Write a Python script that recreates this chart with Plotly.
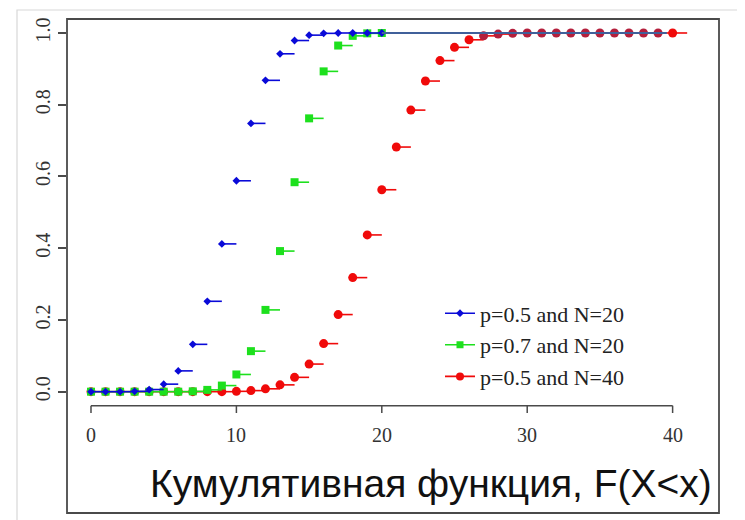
import plotly.graph_objects as go

# ---------------- data ----------------
k20 = [0, 1, 2, 3, 4, 5, 6, 7, 8, 9, 10, 11, 12, 13, 14, 15, 16, 17, 18, 19, 20]
k40 = [0, 1, 2, 3, 4, 5, 6, 7, 8, 9, 10, 11, 12, 13, 14, 15, 16, 17, 18, 19, 20,
       21, 22, 23, 24, 25, 26, 27, 28, 29, 30, 31, 32, 33, 34, 35, 36, 37, 38, 39, 40]
cdf_p05_n20 = [0.000, 0.000, 0.000, 0.001, 0.006, 0.021, 0.058, 0.132, 0.252, 0.412,
               0.588, 0.748, 0.868, 0.942, 0.979, 0.994, 0.999, 1.000, 1.000, 1.000, 1.000]
cdf_p07_n20 = [0.000, 0.000, 0.000, 0.000, 0.000, 0.000, 0.000, 0.001, 0.005, 0.017,
               0.048, 0.113, 0.228, 0.392, 0.584, 0.762, 0.893, 0.965, 0.992, 0.999, 1.000]
cdf_p05_n40 = [0.000, 0.000, 0.000, 0.000, 0.000, 0.000, 0.000, 0.000, 0.000, 0.000,
               0.001, 0.003, 0.008, 0.019, 0.040, 0.077, 0.134, 0.215, 0.318, 0.437,
               0.563, 0.682, 0.785, 0.866, 0.923, 0.960, 0.981, 0.992, 0.997, 0.999,
               1.000, 1.000, 1.000, 1.000, 1.000, 1.000, 1.000, 1.000, 1.000, 1.000, 1.000]
series_names = ["p=0.5 and N=20", "p=0.7 and N=20", "p=0.5 and N=40"]
x_ticks = [0, 10, 20, 30, 40]
y_ticks = [0.0, 0.2, 0.4, 0.6, 0.8, 1.0]
title_text = "Кумулятивная функция, F(X<x)"

# ---------------- styles ----------------
BLUE, GREEN, RED = "#0a0ad8", "#1de01d", "#f00a0a"
RED_DARK = "#b41f3c"
SERIF = "Liberation Serif, Times New Roman, serif"
SANS = "Liberation Sans, Arial, sans-serif"
AXC = "#4a4a4a"

OFF = 8  # page body margin offset
W, H = 745 - OFF, 520 - OFF
ML, MR, MT, MB = 67 - OFF, 26, 19 - OFF, 6
PW, PH = W - ML - MR, H - MT - MB
# axis ranges chosen so that 0..40 and 0..1 land where the reference puts them
XR = [-1.65, 43.19]
YR = [-0.341, 1.039]


def steps(xs, ys):
    sx, sy = [], []
    for a, b in zip(xs, ys):
        sx += [a, a + 1, None]
        sy += [b, b, None]
    return sx, sy


fig = go.Figure()

specs = [
    (k40, cdf_p05_n40, RED, "circle", 9, series_names[2]),
    (k20, cdf_p07_n20, GREEN, "square", 8, series_names[1]),
    (k20, cdf_p05_n20, BLUE, "diamond", 6, series_names[0]),
]

for xs, ys, col, sym, size, name in specs:
    sx, sy = steps(xs, ys)
    fig.add_trace(go.Scatter(x=sx, y=sy, mode="lines", line=dict(color=col, width=1.6),
                             showlegend=False, hoverinfo="skip"))
    if col == RED:
        mcol = [RED_DARK if (v >= 0.99 and x < xs[-1]) else RED for x, v in zip(xs, ys)]
    else:
        mcol = col
    fig.add_trace(go.Scatter(x=xs, y=ys, mode="markers",
                             marker=dict(color=mcol, symbol=sym, size=size, line=dict(width=0)),
                             showlegend=False, name=name))

# top level line where all distributions reach 1
fig.add_shape(type="line", xref="x", yref="y", x0=k20[-1], x1=k40[-1] - 0.4, y0=1, y1=1,
              line=dict(color="#40609a", width=2), layer="above")

# legend-only traces
for i, (col, sym, size) in enumerate([(BLUE, "diamond", 6), (GREEN, "square", 7), (RED, "circle", 8)]):
    fig.add_trace(go.Scatter(x=[None], y=[None], mode="lines+markers", name=series_names[i],
                             line=dict(color=col, width=1.6),
                             marker=dict(color=col, symbol=sym, size=size)))

# R-style x axis drawn from the data scale
y_axis_line = -0.039
y_tick_end = -0.0594
y_tick_lab = -0.121
fig.add_shape(type="line", xref="x", yref="y", x0=x_ticks[0], x1=x_ticks[-1],
              y0=y_axis_line, y1=y_axis_line, line=dict(color=AXC, width=1.5))
for t in x_ticks:
    fig.add_shape(type="line", xref="x", yref="y", x0=t, x1=t, y0=y_axis_line, y1=y_tick_end,
                  line=dict(color=AXC, width=1.5))
    fig.add_annotation(x=t, y=y_tick_lab, xref="x", yref="y", text=str(t), showarrow=False,
                       font=dict(family=SERIF, size=20, color="#333333"),
                       xanchor="center", yanchor="middle")

# big title at the bottom
fig.add_annotation(x=23.38, y=-0.255, xref="x", yref="y", text=title_text, showarrow=False,
                   font=dict(family=SANS, size=39, color="#111111"),
                   xanchor="center", yanchor="middle")

# outer light frame (page x=17, y=10)
fig.add_shape(type="rect", xref="paper", yref="paper",
              x0=(17 - OFF - ML) / PW, x1=(780 - ML) / PW,
              y0=(H - MB - 560) / PH, y1=(H - MB - (10 - OFF)) / PH,
              line=dict(color="#d8d8d8", width=1.2), layer="below")

# dark frame around the whole plot region
fig.add_shape(type="rect", xref="paper", yref="paper", x0=0, x1=1, y0=0.002, y1=1,
              line=dict(color=AXC, width=1.8), layer="above")

fig.update_layout(
    width=W, height=H,
    margin=dict(l=ML, r=MR, t=MT, b=MB, pad=0),
    paper_bgcolor="white", plot_bgcolor="white",
    showlegend=True,
    legend=dict(x=373 / PW, y=(H - MB - 284.4) / PH,
                xanchor="left", yanchor="top", bgcolor="rgba(0,0,0,0)",
                font=dict(family=SERIF, size=22, color="#222222"),
                tracegroupgap=0, borderwidth=0),
    xaxis=dict(range=XR, showgrid=False, zeroline=False, showticklabels=False, ticks="",
               showline=False),
    yaxis=dict(range=YR, showgrid=False, zeroline=False, tickvals=y_ticks,
               ticktext=[f"{v:.1f}" for v in y_ticks], tickangle=-90,
               ticks="outside", ticklen=8, tickwidth=1.5, tickcolor=AXC,
               tickfont=dict(family=SERIF, size=20, color="#333333"),
               showline=False),
)

fig.write_html("out.html")
